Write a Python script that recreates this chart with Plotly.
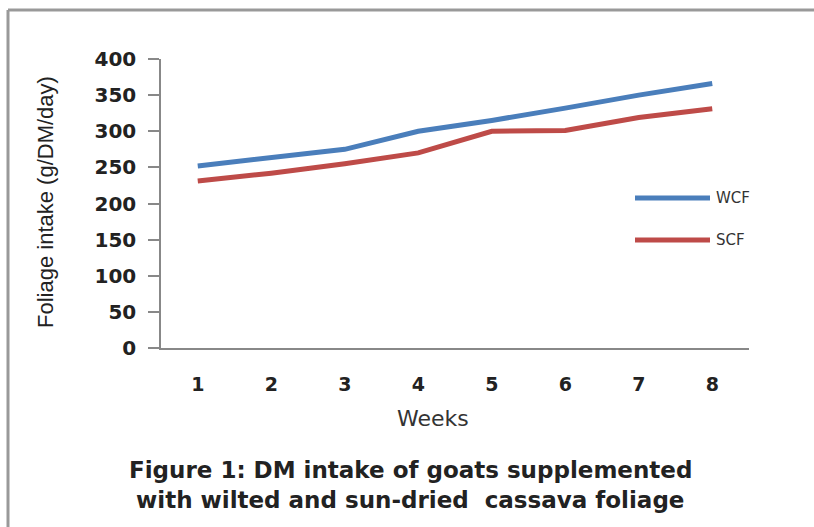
import plotly.graph_objects as go

weeks = [1, 2, 3, 4, 5, 6, 7, 8]
wcf = [252, 263, 275, 300, 315, 332, 350, 366]
scf = [231, 242, 255, 270, 300, 301, 319, 331]
y_ticks = [0, 50, 100, 150, 200, 250, 300, 350, 400]

BLUE = "#4A7EBB"
RED = "#BE4B48"

fig = go.Figure()
fig.add_trace(go.Scatter(x=weeks, y=wcf, mode="lines", name="WCF",
                         line=dict(color=BLUE, width=5)))
fig.add_trace(go.Scatter(x=weeks, y=scf, mode="lines", name="SCF",
                         line=dict(color=RED, width=5)))

W, H = 814, 527
L, R, T, B = 161, 749, 59, 348

def px(x):
    return (x - L) / (R - L)

def py(y):
    return (B - y) / (B - T)

fig.update_layout(
    width=W, height=H,
    margin=dict(l=L, r=W - R, t=T, b=H - B),
    paper_bgcolor="white", plot_bgcolor="white",
    showlegend=False,
    font=dict(family="DejaVu Sans", color="#222"),
)
fig.update_xaxes(
    range=[0.5, 8.5], tickvals=weeks, ticktext=[str(w) for w in weeks],
    showgrid=False, zeroline=False, showline=True, linecolor="#888", linewidth=1.5,
    ticks="", tickfont=dict(family="DejaVu Sans", size=19, weight="bold", color="#222"),
    ticklabelstandoff=18,
)
fig.update_yaxes(
    range=[0, 400], tickvals=y_ticks, ticktext=[str(v) for v in y_ticks],
    showgrid=False, zeroline=False, showline=True, linecolor="#888", linewidth=1.5,
    ticks="outside", ticklen=11, tickcolor="#888", tickwidth=1.5,
    tickfont=dict(family="DejaVu Sans", size=20, weight="bold", color="#222"),
    ticklabelstandoff=8,
)

# legend drawn manually
for yv, col, lab in [(198, BLUE, "WCF"), (240, RED, "SCF")]:
    fig.add_shape(type="line", xref="paper", yref="paper",
                  x0=px(635), x1=px(710), y0=py(yv), y1=py(yv),
                  line=dict(color=col, width=5))
    fig.add_annotation(xref="paper", yref="paper", x=px(714), y=py(yv),
                       text=lab, showarrow=False, xanchor="left", yanchor="middle",
                       font=dict(family="DejaVu Sans", size=15, color="#333"))

# axis titles
fig.add_annotation(xref="paper", yref="paper", x=px(433), y=py(418),
                   text="Weeks", showarrow=False, xanchor="center", yanchor="middle",
                   font=dict(family="DejaVu Sans", size=22, color="#333"))
fig.add_annotation(xref="paper", yref="paper", x=px(45), y=py(202),
                   text="Foliage intake (g/DM/day)", showarrow=False, textangle=-90,
                   xanchor="center", yanchor="middle",
                   font=dict(family="Liberation Sans Narrow, Liberation Sans", size=22, color="#222"))

# caption
fig.add_annotation(xref="paper", yref="paper", x=px(410), y=py(470),
                   text="<b>Figure 1: DM intake of goats supplemented</b>", showarrow=False,
                   xanchor="center", yanchor="middle",
                   font=dict(family="DejaVu Sans", size=23, color="#222"))
fig.add_annotation(xref="paper", yref="paper", x=px(410), y=py(500),
                   text="<b>with wilted and sun-dried  cassava foliage</b>", showarrow=False,
                   xanchor="center", yanchor="middle",
                   font=dict(family="DejaVu Sans", size=23, color="#222"))

# outer frame (top and left edges visible)
fig.add_shape(type="line", xref="paper", yref="paper",
              x0=px(8), x1=px(814), y0=py(10), y1=py(10),
              line=dict(color="#999", width=3))
fig.add_shape(type="line", xref="paper", yref="paper",
              x0=px(8), x1=px(8), y0=py(10), y1=py(527),
              line=dict(color="#999", width=3))

fig.write_html("out.html", config={"displayModeBar": False},
               post_script="document.body.style.margin='0';document.body.style.overflow='hidden';")
